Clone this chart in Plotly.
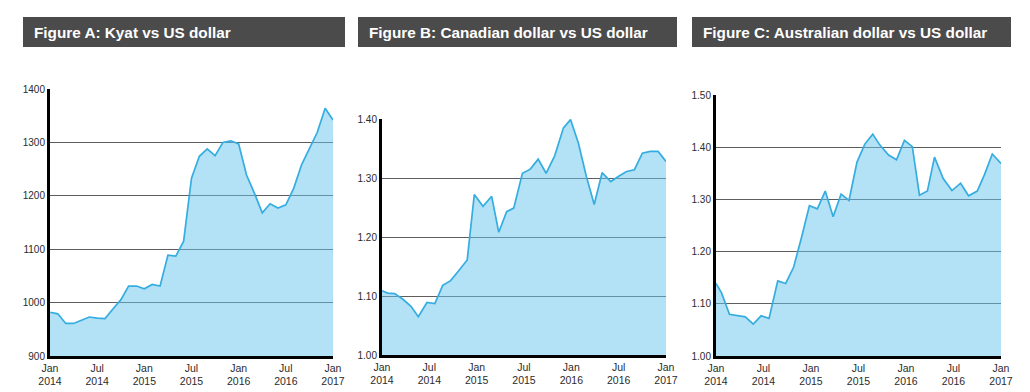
import plotly.graph_objects as go

# page body has an 8px margin; the figure is sized/shifted to compensate
OFF = 8
W, H = 1030 - OFF, 392 - OFF

# ---------------- data (months after Jan 2014) ----------------
kyat_months = list(range(37))
kyat_values = [982, 979, 961, 961, 967, 973, 971, 970, 988, 1005, 1031, 1031,
               1026, 1034, 1031, 1089, 1087, 1115, 1233, 1274, 1288, 1275, 1300, 1303,
               1297, 1239, 1205, 1168, 1185, 1177, 1183, 1214, 1258, 1289, 1319, 1364,
               1342]

cad_months = [0, 0.7, 1.6, 2.7, 3.7, 4.6, 5.7, 6.7, 7.7, 8.7, 9.8, 10.8, 11.7, 12.8,
              13.9, 14.8, 15.8, 16.7, 17.8, 18.8, 19.8, 20.8, 21.9, 23.0, 23.9, 24.9,
              25.9, 26.9, 27.9, 29.0, 30.0, 31.0, 32.0, 33.0, 34.0, 35.0, 36]
cad_values = [1.109, 1.105, 1.104, 1.094, 1.082, 1.065, 1.089, 1.087, 1.118, 1.126,
              1.144, 1.161, 1.272, 1.252, 1.269, 1.208, 1.243, 1.249, 1.308, 1.315,
              1.332, 1.308, 1.338, 1.385, 1.399, 1.359, 1.303, 1.255, 1.309, 1.294,
              1.303, 1.311, 1.314, 1.342, 1.345, 1.345, 1.328]

aud_months = [0, 0.7, 1.7, 2.7, 3.7, 4.7, 5.7, 6.7, 7.8, 8.8, 9.8, 10.8, 11.8, 12.8,
              13.8, 14.8, 15.8, 16.8, 17.8, 18.8, 19.8, 20.7, 21.8, 22.8, 23.8, 24.8,
              25.7, 26.7, 27.6, 28.7, 29.8, 30.9, 31.9, 33.0, 33.9, 34.9, 36]
aud_values = [1.139, 1.121, 1.080, 1.078, 1.075, 1.061, 1.077, 1.072, 1.144, 1.139,
              1.170, 1.227, 1.288, 1.282, 1.316, 1.267, 1.310, 1.298, 1.371, 1.406,
              1.425, 1.404, 1.385, 1.376, 1.413, 1.401, 1.308, 1.316, 1.381, 1.340,
              1.317, 1.331, 1.307, 1.316, 1.347, 1.387, 1.369]

tick_months = [0, 6, 12, 18, 24, 30, 36]
tick_labels = ["Jan<br>2014", "Jul<br>2014", "Jan<br>2015", "Jul<br>2015",
               "Jan<br>2016", "Jul<br>2016", "Jan<br>2017"]

titles = ["Figure A: Kyat vs US dollar",
          "Figure B: Canadian dollar vs US dollar",
          "Figure C: Australian dollar vs US dollar"]

# ---------------- layout geometry (screen pixels) ----------------
panels = [
    dict(x0=50, x1=333, ytop=89, ybot=356, yr=[900, 1400], dt=100, fmt="d",
         bar=(23, 345)),
    dict(x0=382, x1=666, ytop=119, ybot=355, yr=[1.0, 1.4], dt=0.1, fmt=".2f",
         bar=(358, 677)),
    dict(x0=716, x1=1001, ytop=95, ybot=356, yr=[1.0, 1.5], dt=0.1, fmt=".2f",
         bar=(692, 1011)),
]
series = [(kyat_months, kyat_values), (cad_months, cad_values), (aud_months, aud_values)]


def px(x):
    return (x - OFF) / W


def py(y):
    return 1 - (y - OFF) / H


LINE = "#35ade0"
FILL = "rgba(103,195,235,0.5)"
FONT = "Liberation Sans, Arial, Helvetica, sans-serif"
XTICKFONT = dict(family=FONT, size=10.5, color="#2b2b2b")
YTICKFONT = dict(family=FONT, size=10, color="#2b2b2b")

fig = go.Figure()
layout = dict(
    template="none",
    width=W, height=H, autosize=False,
    margin=dict(l=0, r=0, t=0, b=0, pad=0),
    paper_bgcolor="white", plot_bgcolor="rgba(0,0,0,0)",
    showlegend=False, shapes=[], annotations=[],
)

for i, (p, (xs, ys), title) in enumerate(zip(panels, series, titles)):
    sfx = "" if i == 0 else str(i + 1)
    xa, ya = "x" + sfx, "y" + sfx
    fig.add_trace(go.Scatter(
        x=xs, y=ys, xaxis=xa, yaxis=ya, mode="lines",
        line=dict(color=LINE, width=1.7), fill="tozeroy", fillcolor=FILL,
        hoverinfo="skip"))
    layout["xaxis" + sfx] = dict(
        domain=[px(p["x0"]), px(p["x1"])], range=[0, 36], anchor=ya,
        automargin=False,
        tickmode="array", tickvals=tick_months, ticktext=tick_labels,
        showgrid=False, zeroline=False, showline=True, linecolor="#000000",
        linewidth=3, ticks="", tickfont=XTICKFONT, fixedrange=True)
    layout["yaxis" + sfx] = dict(
        domain=[py(p["ybot"]), py(p["ytop"])], range=p["yr"], anchor=xa,
        automargin=False,
        tick0=p["yr"][0], dtick=p["dt"], tickformat=p["fmt"],
        showgrid=True, gridcolor="#5e5e5e", gridwidth=1, zeroline=False,
        showline=True, linecolor="#000000", linewidth=3, ticks="",
        tickfont=YTICKFONT, fixedrange=True)
    bx0, bx1 = p["bar"]
    layout["shapes"].append(dict(
        type="rect", xref="paper", yref="paper",
        x0=px(bx0), x1=px(bx1), y0=py(47), y1=py(17),
        fillcolor="#4b4b4b", line=dict(width=0), layer="below"))
    layout["annotations"].append(dict(
        text="<b>" + title + "</b>", xref="paper", yref="paper",
        x=px(bx0 + 9), y=py(32), xanchor="left", yanchor="middle",
        showarrow=False, font=dict(family=FONT, size=15.3, color="white")))

fig.update_layout(**layout)
fig.write_html("out.html")
